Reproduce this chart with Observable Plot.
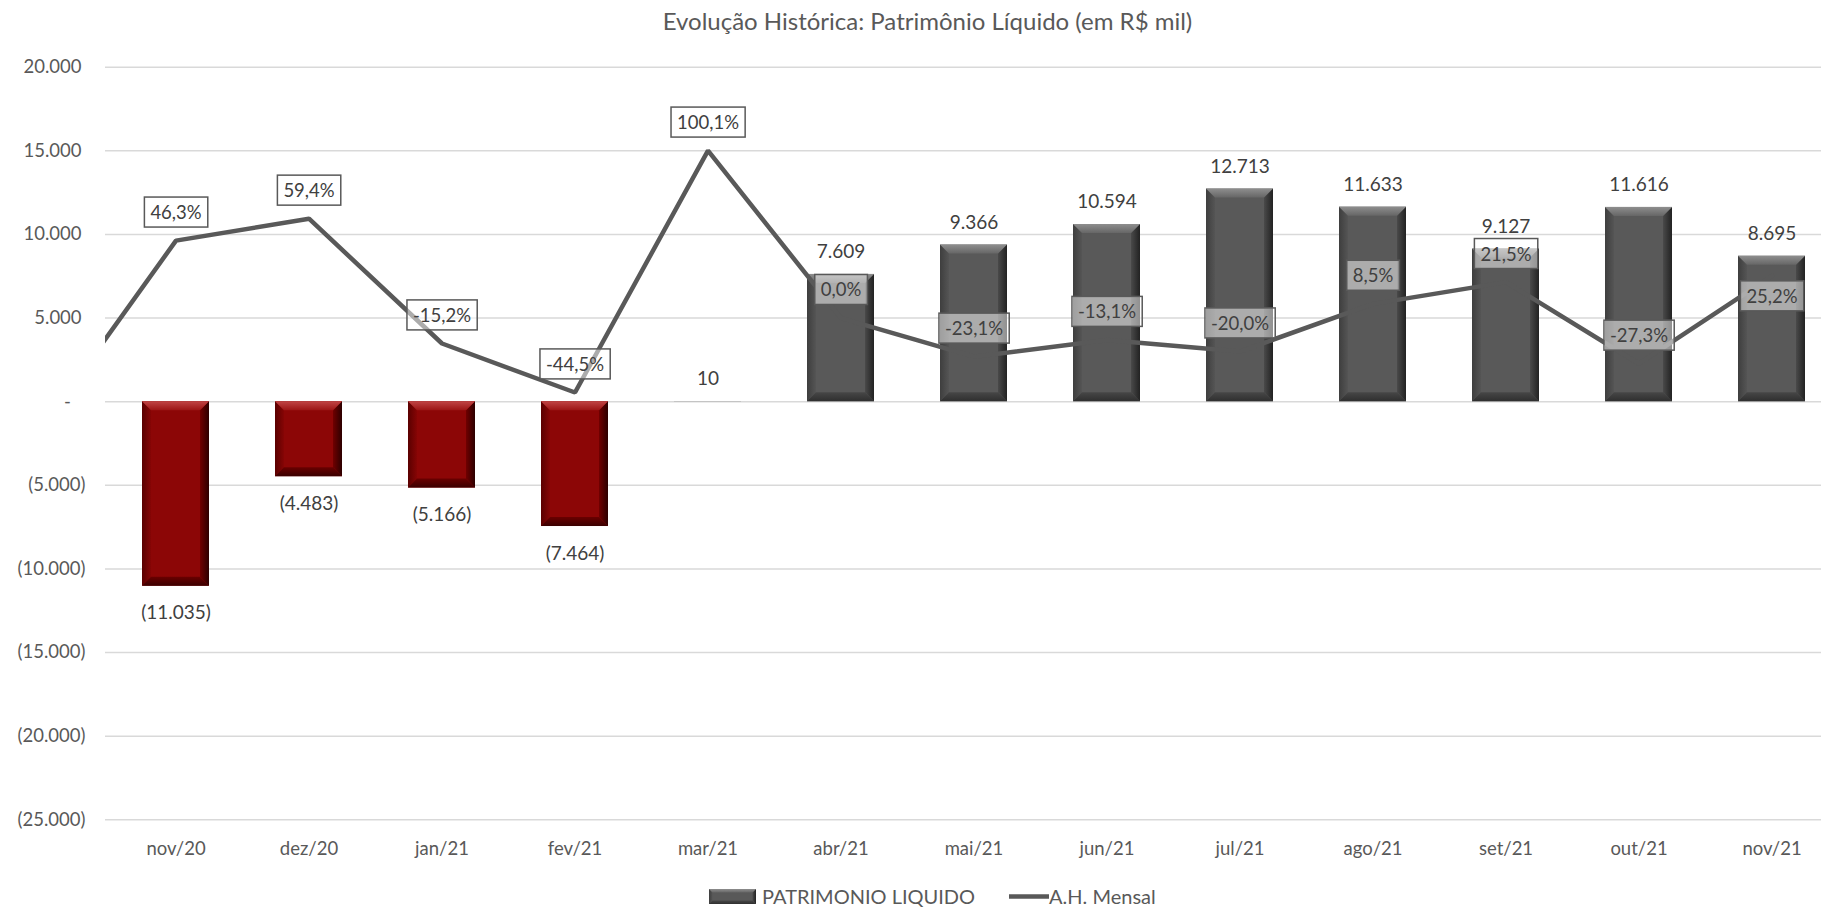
<!DOCTYPE html>
<html>
<head>
<meta charset="utf-8">
<script src="https://cdn.jsdelivr.net/npm/d3@7"></script>
<script src="https://cdn.jsdelivr.net/npm/@observablehq/plot@0.6"></script>
<style>
  html, body { margin: 0; padding: 0; background: #fff; overflow: hidden; }
  body { font-family: Lato, "Open Sans", sans-serif; width: 1821px; height: 907px; position: relative; }
  #title { height: 40px; line-height: 42px; width: 1855px; text-align: center; font-size: 24px; color: #595959; white-space: nowrap; }
  #chart { height: 845px; }
  #legend { position: absolute; top: 885px; left: 709px; height: 22px; display: flex; align-items: center; font-size: 20px; color: #595959; white-space: nowrap; }
  #legend .item { display: flex; align-items: center; }
</style>
</head>
<body>
<div id="title">Evolução Histórica: Patrimônio Líquido (em R$ mil)</div>
<div id="chart"></div>
<div id="legend"></div>
<script>
// ---------------- data ----------------
const months = ["nov/20","dez/20","jan/21","fev/21","mar/21","abr/21","mai/21","jun/21","jul/21","ago/21","set/21","out/21","nov/21"];
const patrimonio = [-11035, -4483, -5166, -7464, 10, 7609, 9366, 10594, 12713, 11633, 9127, 11616, 8695];
const ahMensal = [46.3, 59.4, -15.2, -44.5, 100.1, 0.0, -23.1, -13.1, -20.0, 8.5, 21.5, -27.3, 25.2];
// the line enters from a hidden earlier point (clipped at the plot's left edge)
const leadMonth = "out/20";
const leadPct = -64.5;
const yTicks = [20000, 15000, 10000, 5000, 0, -5000, -10000, -15000, -20000, -25000];
const yDomain = [-25000, 20000];
const secDomain = [-300, 150]; // hidden secondary axis (%) for A.H. Mensal
const seriesNames = ["PATRIMONIO LIQUIDO", "A.H. Mensal"];

// ---------------- helpers ----------------
const loc = d3.formatLocale({decimal: ",", thousands: ".", grouping: [3], currency: ["R$ ", ""], minus: "-"});
const fInt = loc.format(",.0f");
const fPct = loc.format(".1f");
const numFmt = v => v < 0 ? "(" + fInt(-v) + ")" : fInt(v);
const tickFmt = v => v === 0 ? "-\u2007\u2008" : (v < 0 ? "(" + fInt(-v) + ")" : fInt(v) + "\u2008");
const pctFmt = v => fPct(v) + "%";
const toPrimary = p => yDomain[0] + (p - secDomain[0]) * (yDomain[1] - yDomain[0]) / (secDomain[1] - secDomain[0]);

const negColor = "#8c0606";
const posColor = "#595959";
const lineColor = "#595959";
const labelColor = "#404040";

const rows = months.map((m, i) => ({month: m, value: patrimonio[i], pct: ahMensal[i]}));
const lineRows = [{month: leadMonth, pct: leadPct}, ...rows];

const W = 1821, H = 845;
const marginLeft = 105, marginTop = 26.7, marginBottom = 65.7;
const step = 133.58;
const xDomain = [leadMonth, ...months];

const last = rows[rows.length - 1];
const plot = Plot.plot({
  width: W,
  height: H,
  marginLeft, marginRight: 0, marginTop, marginBottom,
  style: {fontFamily: "Lato, 'Open Sans', sans-serif", fontSize: "18.5px", background: "#fff", overflow: "visible"},
  x: {type: "band", domain: xDomain, range: [marginLeft - step, marginLeft + months.length * step], paddingInner: 0.5, paddingOuter: 0.25, axis: null, label: null},
  y: {domain: yDomain, axis: null, label: null},
  color: {type: "identity"},
  marks: [
    Plot.ruleY(yTicks, {stroke: "#d9d9d9", strokeWidth: 1.6}),
    Plot.axisY({ticks: yTicks, tickSize: 0, tickPadding: 20, tickFormat: tickFmt, color: "#595959", fontSize: 18.5, label: null}),
    Plot.axisX({ticks: months, tickSize: 0, tickPadding: 22, color: "#595959", fontSize: 18.5, label: null}),
    Plot.barY(rows, {x: "month", y: "value", fill: d => d.value < 0 ? negColor : posColor}),
    Plot.line(lineRows, {x: "month", y: d => toPrimary(d.pct), stroke: lineColor, strokeWidth: 4.5, strokeLinejoin: "miter", clip: true}),
    Plot.text(rows.filter(d => d.value >= 0), {x: "month", y: "value", text: d => numFmt(d.value), dy: -22.5, fill: labelColor, fontSize: 19}),
    Plot.text(rows.filter(d => d.value < 0), {x: "month", y: "value", text: d => numFmt(d.value), dy: 27, fill: labelColor, fontSize: 19}),
    Plot.text(rows.filter(d => d !== last), {x: "month", y: d => toPrimary(d.pct), text: d => pctFmt(d.pct), dy: -27.5, fill: labelColor, fontSize: 18.5, ariaDescription: "pct-label"}),
    Plot.text([last], {x: "month", y: d => toPrimary(d.pct), text: d => pctFmt(d.pct), dy: 21, fill: labelColor, fontSize: 18.5, ariaDescription: "pct-label"})
  ]
});
document.getElementById("chart").appendChild(plot);

// ---------------- bevel effect on bars ----------------
const NS = "http://www.w3.org/2000/svg";
function defs(svg) {
  let d = svg.querySelector("defs");
  if (!d) { d = document.createElementNS(NS, "defs"); svg.insertBefore(d, svg.firstChild); }
  return d;
}
function grad(svg, id, x2, y2, stops) {
  const g = document.createElementNS(NS, "linearGradient");
  g.setAttribute("id", id);
  g.setAttribute("x1", 0); g.setAttribute("y1", 0); g.setAttribute("x2", x2); g.setAttribute("y2", y2);
  stops.forEach(([o, c]) => {
    const s = document.createElementNS(NS, "stop");
    s.setAttribute("offset", o); s.setAttribute("stop-color", c);
    g.appendChild(s);
  });
  defs(svg).appendChild(g);
}
const palettes = {
  neg: {top: [["0", "#c04545"], ["1", "#9c1515"]], bottom: [["0", "#6a0000"], ["1", "#3a0000"]], left: [["0", "#5a0000"], ["1", "#860505"]], right: [["0", "#700000"], ["1", "#2c0000"]]},
  pos: {top: [["0", "#8e8e8e"], ["1", "#666666"]], bottom: [["0", "#474747"], ["1", "#2f2f2f"]], left: [["0", "#3e3e3e"], ["1", "#555555"]], right: [["0", "#4a4a4a"], ["1", "#222222"]]}
};
function makeBevelDefs(svg, prefix) {
  for (const k of ["neg", "pos"]) {
    const p = palettes[k];
    grad(svg, prefix + k + "-top", 0, 1, p.top);
    grad(svg, prefix + k + "-bottom", 0, 1, p.bottom);
    grad(svg, prefix + k + "-left", 1, 0, p.left);
    grad(svg, prefix + k + "-right", 1, 0, p.right);
  }
}
function bevel(parent, before, x, y, w, h, kind, prefix, bsize) {
  const b = Math.min(bsize, h / 2, w / 2);
  const polys = [
    ["left", [[x, y], [x + b, y + b], [x + b, y + h - b], [x, y + h]]],
    ["right", [[x + w, y], [x + w - b, y + b], [x + w - b, y + h - b], [x + w, y + h]]],
    ["top", [[x, y], [x + w, y], [x + w - b, y + b], [x + b, y + b]]],
    ["bottom", [[x, y + h], [x + w, y + h], [x + w - b, y + h - b], [x + b, y + h - b]]]
  ];
  for (const [side, pts] of polys) {
    const pg = document.createElementNS(NS, "polygon");
    pg.setAttribute("points", pts.map(p => p.join(",")).join(" "));
    pg.setAttribute("fill", `url(#${prefix}${kind}-${side})`);
    parent.insertBefore(pg, before);
  }
}
makeBevelDefs(plot, "bv-");
plot.querySelectorAll('g[aria-label="bar"] rect').forEach(r => {
  const x = +r.getAttribute("x"), y = +r.getAttribute("y"), w = +r.getAttribute("width"), h = +r.getAttribute("height");
  const kind = r.getAttribute("fill") === negColor ? "neg" : "pos";
  if (h > 2) bevel(r.parentNode, r.nextSibling, x, y, w, h, kind, "bv-", 9);
});

// ---------------- boxes behind percentage labels ----------------
plot.querySelectorAll('g[aria-description="pct-label"] text').forEach(t => {
  const bb = t.getBBox();
  const padX = 6, padY = 4;
  const rect = document.createElementNS(NS, "rect");
  rect.setAttribute("x", bb.x - padX);
  rect.setAttribute("y", bb.y - padY);
  rect.setAttribute("width", bb.width + 2 * padX);
  rect.setAttribute("height", bb.height + 2 * padY);
  rect.setAttribute("fill", "#ffffff");
  rect.setAttribute("fill-opacity", 0.5);
  rect.setAttribute("stroke", "#595959");
  rect.setAttribute("stroke-width", 1.5);
  const tr = t.getAttribute("transform");
  if (tr) rect.setAttribute("transform", tr);
  t.parentNode.insertBefore(rect, t);
});

// ---------------- legend ----------------
const legend = document.getElementById("legend");
const sw1 = `<svg width="47" height="15" style="margin-right:6px"><rect x="0" y="0" width="47" height="15" fill="${posColor}"></rect></svg>`;
const sw2 = `<svg width="40" height="15"><line x1="0" x2="40" y1="7.5" y2="7.5" stroke="${lineColor}" stroke-width="4.5"/></svg>`;
legend.innerHTML = `<div class="item">${sw1}<span>${seriesNames[0]}</span></div><div class="item" style="margin-left:34px">${sw2}<span>${seriesNames[1]}</span></div>`;
const lsvg = legend.querySelector("svg");
makeBevelDefs(lsvg, "lg-");
bevel(lsvg, null, 0, 0, 47, 15, "pos", "lg-", 3.5);
</script>
</body>
</html>
